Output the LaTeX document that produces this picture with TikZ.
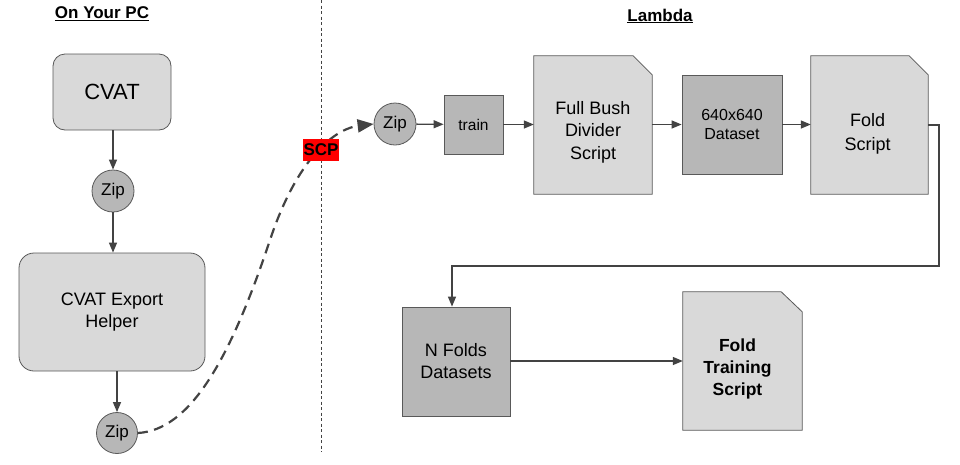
\documentclass[tikz,border=0pt]{standalone}
\usepackage{fontspec}
\setmainfont{Liberation Sans}
\usetikzlibrary{arrows.meta,calc}
\definecolor{lightg}{HTML}{D9D9D9}
\definecolor{midg}{HTML}{B7B7B7}
\definecolor{edgeg}{HTML}{595959}
\definecolor{lineg}{HTML}{434343}
\newcommand{\fs}[2]{\fontsize{#1}{#2}\selectfont}
\tikzset{
  box/.style={draw=edgeg, line width=0.8pt, inner sep=0pt, align=center, text=black},
  lbox/.style={box, fill=lightg},
  dbox/.style={box, fill=midg},
  zipc/.style={draw=edgeg, line width=0.8pt, fill=midg, circle, minimum size=42pt, inner sep=0pt, font=\fs{17}{20}},
  docnode/.style={inner sep=0pt, align=center, text=black},
  docshape/.style={fill=lightg, draw=edgeg, line width=0.8pt},
  conn/.style={draw=lineg, line width=1.3pt, -{Triangle[length=10pt,width=8pt]}},
  title/.style={font=\bfseries\fs{17}{20}, text=black, inner sep=0pt}
}
\begin{document}
\begin{tikzpicture}[x=1pt,y=-1pt]
\useasboundingbox (0,0) rectangle (960,464);
\fill[white] (0,0) rectangle (960,464);

% titles
\node[title] (pctitle) at (102,14) {\underline{On Your PC}};
\node[title] (lamtitle) at (660,16) {\underline{Lambda}};

% separator
\coordinate (septop) at (321,0);
\coordinate (sepbot) at (321,452);
\draw[lineg, line width=0.8pt, dash pattern=on 3pt off 2.5pt] (septop) -- (sepbot);

% left side
\node[lbox, rounded corners=12pt, minimum width=118pt, minimum height=76pt, font=\fs{22}{26}] (cvat) at (112,92) {CVAT};
\node[zipc] (zip1) at (113,191) {Zip};
\node[lbox, rounded corners=15pt, minimum width=186pt, minimum height=118pt, font=\fs{18}{22}] (helper) at (112,312) {CVAT Export\\Helper};
\node[zipc, minimum size=41pt] (zip2) at (117,433) {Zip};

\draw[conn] (zip1 |- cvat.south) -- (zip1);
\draw[conn] (zip1) -- (zip1 |- helper.north);
\draw[conn] (zip2 |- helper.south) -- (zip2);

% right side top row
\node[zipc] (zip3) at (395,124) {Zip};
\node[dbox, minimum width=59pt, minimum height=59pt, font=\fs{15.5}{18}] (train) at (473.5,124.5) {train};

\node[docnode, minimum width=118pt, minimum height=138pt] (fbush) at (593,125) {};
\filldraw[docshape]
  (fbush.south west) -- (fbush.north west) -- ($(fbush.north east)+(-19,0)$) -- ($(fbush.north east)+(0,19)$) -- (fbush.south east) -- cycle;
\node[docnode, font=\fs{18}{22.5}] (fbushtext) at ($(fbush)+(0,7)$) {Full Bush\\Divider\\Script};

\node[dbox, minimum width=100pt, minimum height=99pt, font=\fs{16}{19.5}] (ds640) at (732,124.5) {640x640\\Dataset};

\node[docnode, minimum width=117pt, minimum height=138pt] (fold) at (869.5,125) {};
\filldraw[docshape]
  (fold.south west) -- (fold.north west) -- ($(fold.north east)+(-19,0)$) -- ($(fold.north east)+(0,19)$) -- (fold.south east) -- cycle;
\node[docnode, font=\fs{18}{23.5}] (foldtext) at ($(fold)+(-2,9)$) {Fold\\Script};

% bottom row
\node[dbox, minimum width=108pt, minimum height=109pt, font=\fs{18}{22}] (nfolds) at (456,361.5) {N Folds\\Datasets};

\node[docnode, minimum width=119pt, minimum height=138pt] (ftrain) at (742.5,361) {};
\filldraw[docshape]
  (ftrain.south west) -- (ftrain.north west) -- ($(ftrain.north east)+(-21,0)$) -- ($(ftrain.north east)+(0,20)$) -- (ftrain.south east) -- cycle;
\node[docnode, font=\bfseries\fs{17.5}{22}] (ftraintext) at ($(ftrain)+(-5,8)$) {Fold\\Training\\Script};

% connectors
\draw[conn] (zip3) -- (train);
\draw[conn] (train) -- (train -| fbush.west);
\draw[conn] (fbush.east |- ds640) -- (ds640);
\draw[conn] (ds640) -- (ds640 -| fold.west);
\coordinate (turn) at (939,266);
\coordinate (drop) at (452,266);
\draw[conn] (fold.east) -| (turn) -- (drop) -- (drop |- nfolds.north);
\draw[conn] (nfolds.east |- ftrain) -- (ftrain.west);

% SCP transfer
\draw[draw=lineg, line width=2.2pt, dash pattern=on 10pt off 6.5pt, -{Triangle[length=16pt,width=13pt]}]
  (zip2.east) .. controls (190,430) and (230,360) .. (270,240)
  .. controls (300,150) and (340,128) .. (zip3.west);
\node[fill=red, text=black, font=\bfseries\fs{17}{20}, minimum width=36pt, minimum height=22pt, inner sep=0pt] (scp) at (321,150) {SCP};
\end{tikzpicture}
\end{document}
